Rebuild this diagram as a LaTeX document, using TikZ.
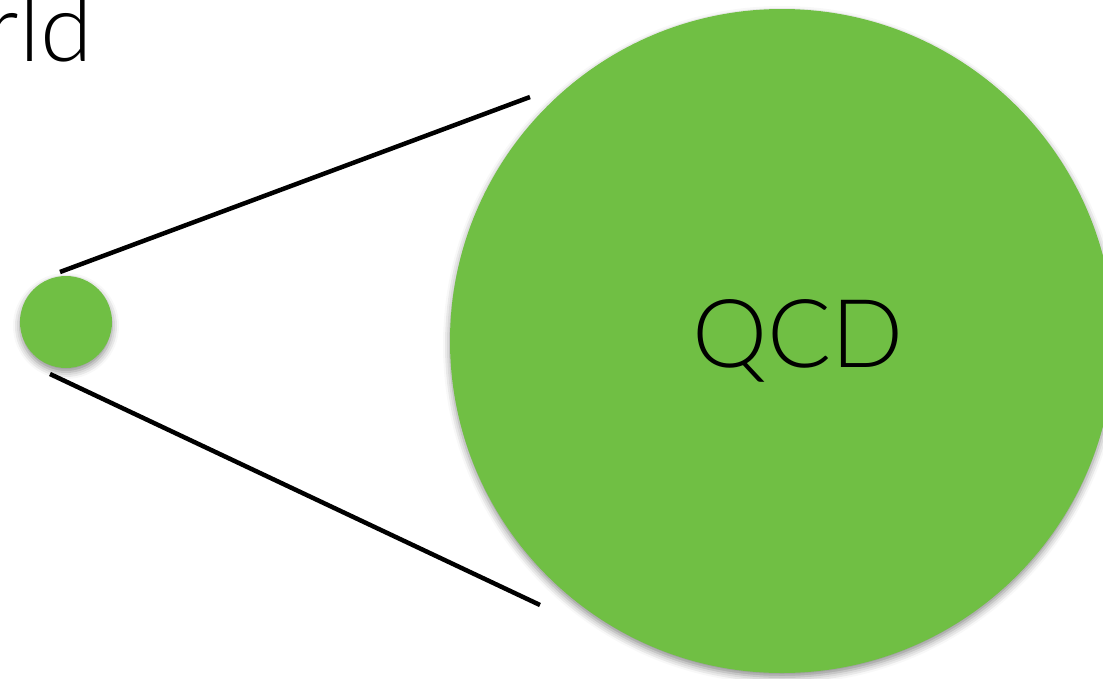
\documentclass[tikz,border=0pt]{standalone}
\usepackage{fontspec}
\setmainfont{Lato}[UprightFont=* Light]
\usetikzlibrary{shadows.blur}
\definecolor{leaf}{RGB}{112,191,68}
\tikzset{
  ball/.style={
    circle,
    fill=leaf,
    inner sep=0pt,
    blur shadow={shadow xshift=0pt, shadow yshift=-4pt,
      shadow blur radius=7pt, shadow opacity=45},
  },
  cone/.style={line width=4.5pt, black},
  lbl/.style={inner sep=0pt, font=\fontsize{95}{110}\selectfont},
}

\begin{document}
\begin{tikzpicture}[x=1pt, y=-1pt]
  \useasboundingbox (0,0) rectangle (1103,678);

  \node[ball, minimum size=92pt] (dot) at (66,322) {};
  \node[ball, minimum size=664pt] (qcd) at (782,341) {};
  \node[lbl] (name) at ([xshift=16pt]qcd.center) {QCD};
  \node[lbl, anchor=base east] (world) at (93,61) {rld};

  % the cone opening from the dot
  \coordinate (up-a) at (60,272);
  \coordinate (up-b) at (530,97);
  \coordinate (lo-a) at (50,374);
  \coordinate (lo-b) at (540,605);
  \draw[cone] (up-a) -- (up-b);
  \draw[cone] (lo-a) -- (lo-b);
\end{tikzpicture}
\end{document}
